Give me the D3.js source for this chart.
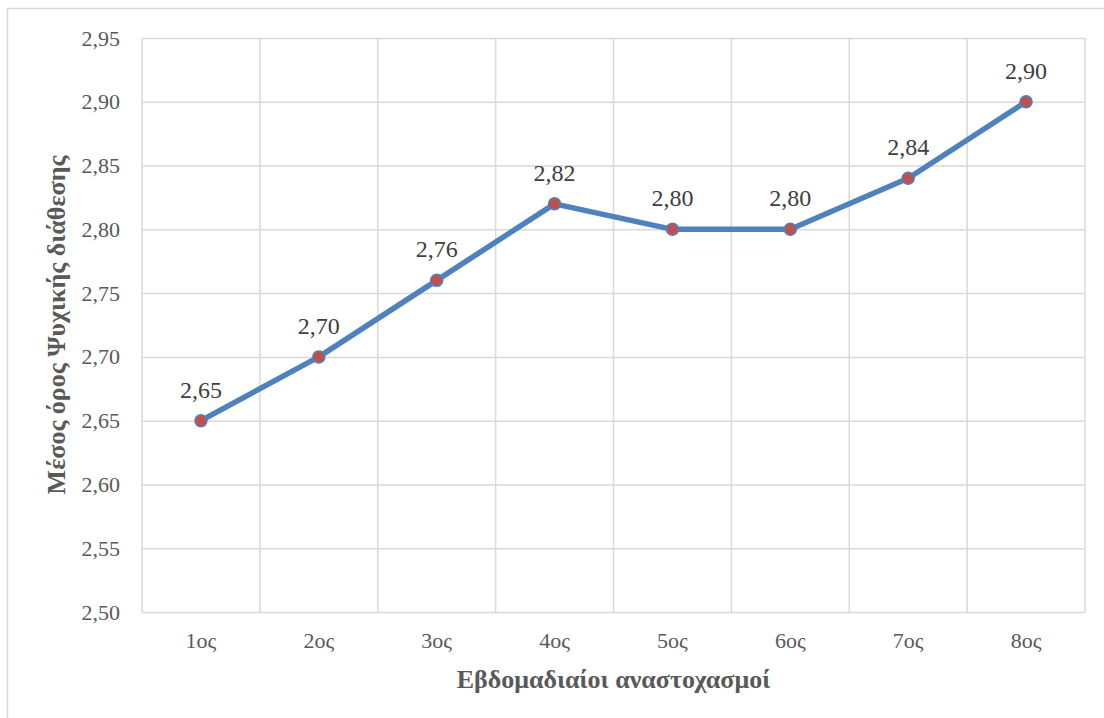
<!DOCTYPE html>
<html>
<head>
<meta charset="utf-8">
<script src="https://cdn.jsdelivr.net/npm/d3@7"></script>
<style>
  html, body { margin: 0; padding: 0; background: #fff; }
  svg { display: block; }
</style>
</head>
<body>
<svg id="chart" width="1104" height="718"></svg>
<script>
// Weekly reflections and mean mood score
const categories = ["1ος", "2ος", "3ος", "4ος", "5ος", "6ος", "7ος", "8ος"];
const values = [2.65, 2.70, 2.76, 2.82, 2.80, 2.80, 2.84, 2.90];
const yTicks = [2.50, 2.55, 2.60, 2.65, 2.70, 2.75, 2.80, 2.85, 2.90, 2.95];
const xTitle = "Εβδομαδιαίοι αναστοχασμοί";
const yTitle = "Μέσος όρος Ψυχικής διάθεσης";

const svg = d3.select("#chart");
const W = 1104, H = 718;
const plot = { left: 142, right: 1085, top: 38, bottom: 612 };
const font = "'Liberation Serif', 'Times New Roman', serif";
const fmt = v => d3.format(".2f")(v).replace(".", ",");

// outer frame (left and top edges)
svg.append("path")
  .attr("d", `M7.5,${H} V8.5 H${W}`)
  .attr("fill", "none").attr("stroke", "#d9d9d9").attr("stroke-width", 1.5);

const x = d3.scaleBand().domain(categories).range([plot.left, plot.right]).padding(0);
const y = d3.scaleLinear().domain([2.50, 2.95]).range([plot.bottom, plot.top]);

// horizontal gridlines + y tick labels
const yAxis = d3.axisLeft(y).tickValues(yTicks).tickFormat(fmt)
  .tickSize(-(plot.right - plot.left)).tickPadding(22);
const gy = svg.append("g").attr("transform", `translate(${plot.left},0)`).call(yAxis);
gy.select(".domain").remove();
gy.selectAll(".tick line").attr("stroke", "#d9d9d9").attr("stroke-width", 1.5);
gy.selectAll(".tick text")
  .attr("fill", "#595959").attr("font-family", font).attr("font-size", 22);

// vertical gridlines at category boundaries
const bounds = categories.map(c => x(c)).concat([plot.right]);
svg.append("g").selectAll("line").data(bounds).join("line")
  .attr("x1", d => d).attr("x2", d => d)
  .attr("y1", plot.top).attr("y2", plot.bottom)
  .attr("stroke", "#d9d9d9").attr("stroke-width", 1.5);

// x category labels
const xAxis = d3.axisBottom(x).tickSize(0).tickPadding(20);
const gx = svg.append("g").attr("transform", `translate(0,${plot.bottom})`).call(xAxis);
gx.select(".domain").remove();
gx.selectAll(".tick text")
  .attr("fill", "#595959").attr("font-family", font).attr("font-size", 22);

const cx = c => x(c) + x.bandwidth() / 2;

// line
const line = d3.line().x((d, i) => cx(categories[i])).y(d => y(d));
svg.append("path").datum(values)
  .attr("d", line).attr("fill", "none")
  .attr("stroke", "#4f81bd").attr("stroke-width", 5.5)
  .attr("stroke-linejoin", "round").attr("stroke-linecap", "round");

// markers
svg.append("g").selectAll("circle").data(values).join("circle")
  .attr("cx", (d, i) => cx(categories[i])).attr("cy", d => y(d))
  .attr("r", 6).attr("fill", "#c0504d")
  .attr("stroke", "#4f81bd").attr("stroke-width", 1.5);

// value labels
svg.append("g").selectAll("text").data(values).join("text")
  .attr("x", (d, i) => cx(categories[i])).attr("y", d => y(d) - 23)
  .attr("text-anchor", "middle")
  .attr("fill", "#404040").attr("font-family", font).attr("font-size", 24)
  .text(d => fmt(d));

// axis titles
svg.append("text")
  .attr("x", (plot.left + plot.right) / 2).attr("y", 688)
  .attr("text-anchor", "middle")
  .attr("fill", "#595959").attr("font-family", font).attr("font-size", 26)
  .attr("font-weight", "bold").text(xTitle);

svg.append("text")
  .attr("transform", `translate(65,${(plot.top + plot.bottom) / 2}) rotate(-90)`)
  .attr("text-anchor", "middle")
  .attr("fill", "#595959").attr("font-family", font).attr("font-size", 26)
  .attr("font-weight", "bold").text(yTitle);
</script>
</body>
</html>
